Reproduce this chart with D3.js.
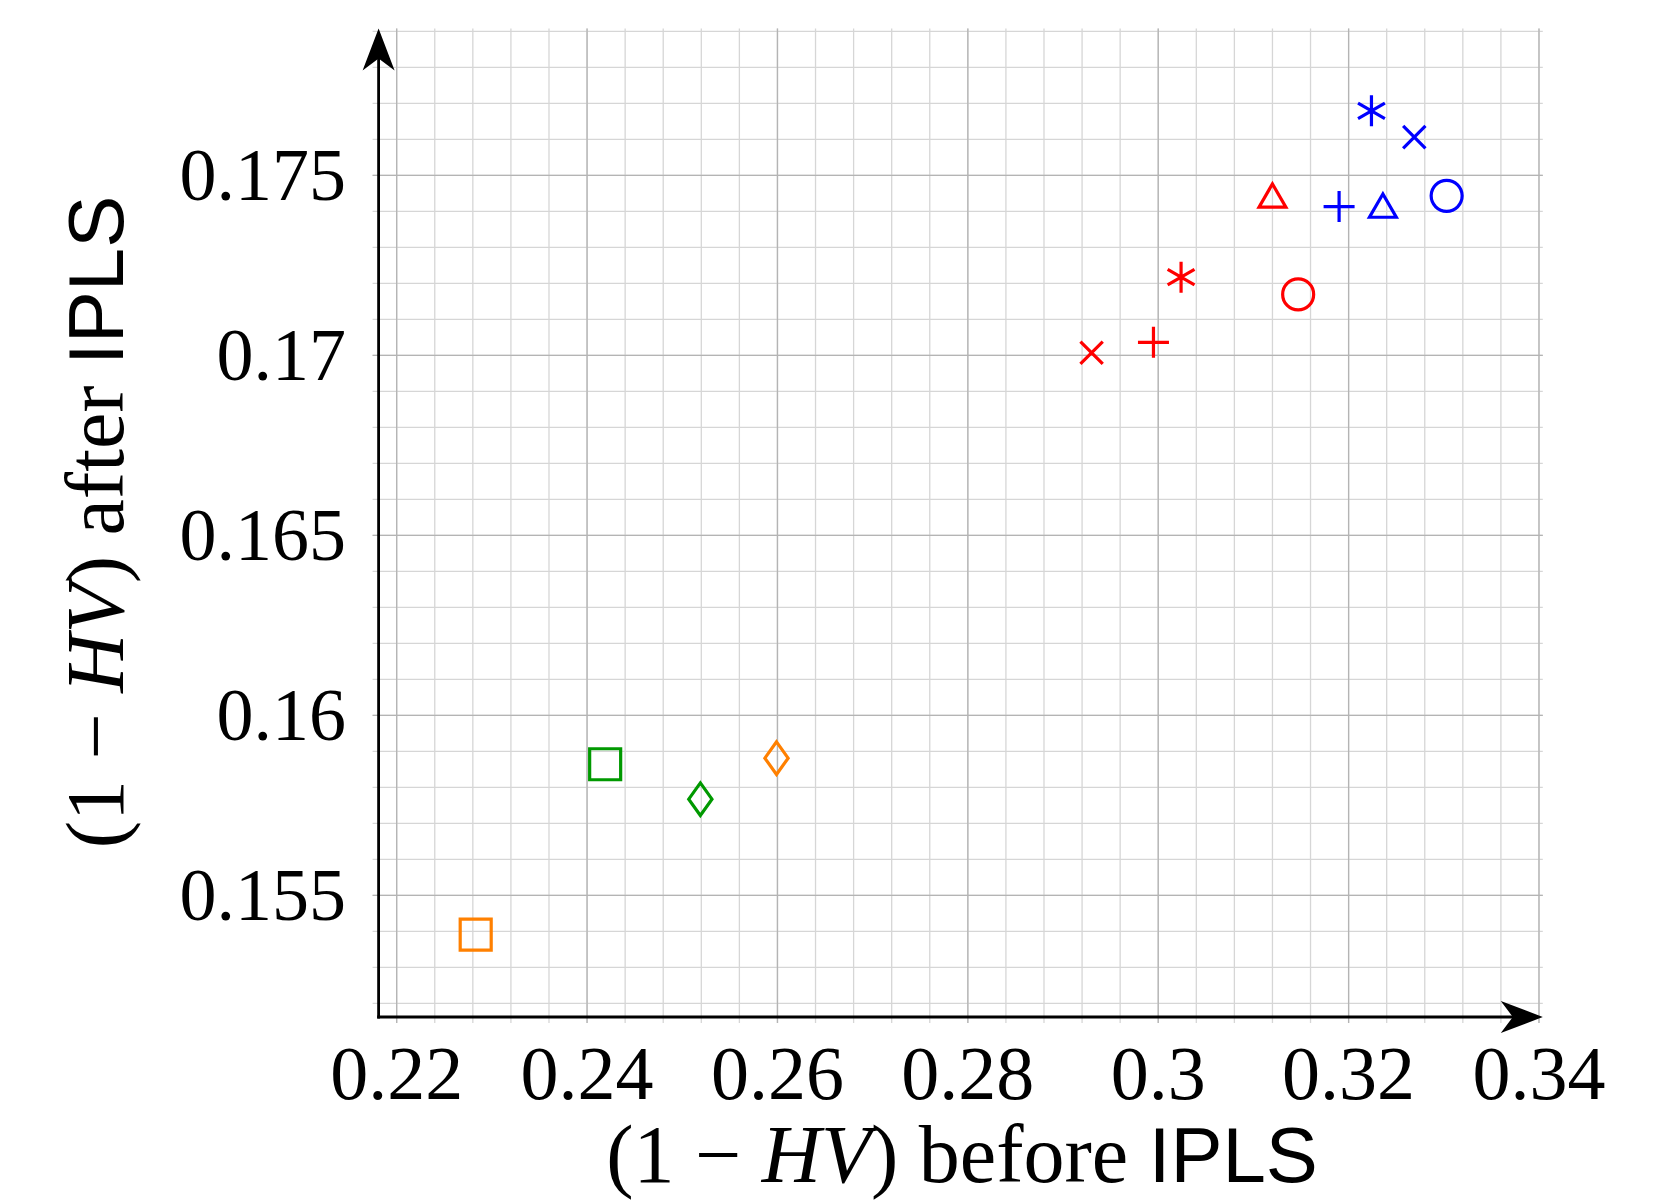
<html>
  <head>
    <meta charset="utf-8">
    <title>HV before / after IPLS</title>
    <style>
      body { margin: 0; background: #fff; }
      svg { display: block; }
      .serif { font-family: "Liberation Serif", "DejaVu Serif", serif; }
      .sans { font-family: "Liberation Sans", "DejaVu Sans", sans-serif; }
    </style>
  </head>
  <body>
    <script src="https://d3js.org/d3.v7.min.js" charset="utf-8"></script>
    <script>
    // data
    var redX = [0.2930, 0.2995, 0.3024, 0.3120, 0.3147];
    var redY = [0.17007, 0.17036, 0.17217, 0.17433, 0.17169];
    var redMarks = ["x", "+", "*", "triangle", "o"];

    var blueX = [0.3190, 0.3236, 0.3303, 0.3224, 0.3269];
    var blueY = [0.17413, 0.17405, 0.17443, 0.17679, 0.17606];
    var blueMarks = ["+", "triangle", "o", "*", "x"];

    var greenX = [0.2419, 0.2519];
    var greenY = [0.15864, 0.15767];
    var greenMarks = ["square", "diamond"];

    var orangeX = [0.2283, 0.2599];
    var orangeY = [0.15391, 0.15881];
    var orangeMarks = ["square", "diamond"];

    var xTicks = [0.22, 0.24, 0.26, 0.28, 0.30, 0.32, 0.34];
    var xTickLabels = ["0.22", "0.24", "0.26", "0.28", "0.3", "0.32", "0.34"];
    var yTicks = [0.155, 0.16, 0.165, 0.17, 0.175];
    var yTickLabels = ["0.155", "0.16", "0.165", "0.17", "0.175"];

    var xDomain = [0.2181, 0.3404];
    var yDomain = [0.15162, 0.17908];

    // layout (window.top is taken, so pX* names)
    var widthCanvas = 1669;
    var heightCanvas = 1202;
    var pLeft = 378.6, pRight = 1542.8, pTop = 28.4, pBottom = 1017;
    var markR = 15.5;
    var colours = {red: "#ff0000", blue: "#0000ff", green: "#009900", orange: "#ff8000"};

    var svg = d3.select("body").append("svg")
        .attr("width", widthCanvas)
        .attr("height", heightCanvas);

    var x = d3.scaleLinear().domain(xDomain).range([pLeft, pRight]);
    var y = d3.scaleLinear().domain(yDomain).range([pBottom, pTop]);

    // grid: minor then major
    var xMinor = d3.range(0.22, 0.3401, 0.004);
    var yMinor = d3.range(0.152, 0.17901, 0.001);

    var grid = svg.append("g");
    grid.selectAll(".vminor").data(xMinor).enter().append("line")
        .attr("x1", d => x(d)).attr("x2", d => x(d))
        .attr("y1", pTop).attr("y2", pBottom + 6)
        .attr("stroke", "#d6d6d6").attr("stroke-width", 1.3);
    grid.selectAll(".hminor").data(yMinor).enter().append("line")
        .attr("x1", pLeft - 6).attr("x2", pRight)
        .attr("y1", d => y(d)).attr("y2", d => y(d))
        .attr("stroke", "#d6d6d6").attr("stroke-width", 1.3);
    grid.selectAll(".vmajor").data(xTicks).enter().append("line")
        .attr("x1", d => x(d)).attr("x2", d => x(d))
        .attr("y1", pTop).attr("y2", pBottom + 6)
        .attr("stroke", "#b4b4b4").attr("stroke-width", 1.3);
    grid.selectAll(".hmajor").data(yTicks).enter().append("line")
        .attr("x1", pLeft - 6).attr("x2", pRight)
        .attr("y1", d => y(d)).attr("y2", d => y(d))
        .attr("stroke", "#b4b4b4").attr("stroke-width", 1.3);

    // axes with stealth arrows
    svg.append("line")
        .attr("x1", pLeft).attr("x2", pLeft)
        .attr("y1", pBottom + 1.4).attr("y2", pTop + 20)
        .attr("stroke", "#000").attr("stroke-width", 2.8);
    svg.append("line")
        .attr("x1", pLeft - 1.4).attr("x2", pRight - 20)
        .attr("y1", pBottom).attr("y2", pBottom)
        .attr("stroke", "#000").attr("stroke-width", 2.8);
    svg.append("path")
        .attr("d", "M" + pLeft + "," + pTop + " L" + (pLeft - 16) + "," + (pTop + 42) +
                   " L" + pLeft + "," + (pTop + 30) + " L" + (pLeft + 16) + "," + (pTop + 42) + " Z")
        .attr("fill", "#000");
    svg.append("path")
        .attr("d", "M" + pRight + "," + pBottom + " L" + (pRight - 42) + "," + (pBottom - 16) +
                   " L" + (pRight - 30) + "," + pBottom + " L" + (pRight - 42) + "," + (pBottom + 16) + " Z")
        .attr("fill", "#000");

    // tick labels
    var tickSize = 76;
    svg.selectAll(".xlab").data(xTicks).enter().append("text")
        .attr("class", "serif")
        .attr("x", d => x(d)).attr("y", 1099)
        .attr("text-anchor", "middle")
        .attr("font-size", tickSize)
        .text((d, i) => xTickLabels[i]);
    svg.selectAll(".ylab").data(yTicks).enter().append("text")
        .attr("class", "serif")
        .attr("x", 346).attr("y", d => y(d) + 0.33 * 74)
        .attr("text-anchor", "end")
        .attr("font-size", 74)
        .text((d, i) => yTickLabels[i]);

    // axis titles
    function title(g, word) {
        var t = g.append("text").attr("text-anchor", "middle").attr("font-size", 82);
        t.append("tspan").attr("class", "serif").text("(1 \u2212 ");
        t.append("tspan").attr("class", "serif").attr("font-style", "italic").text("HV");
        t.append("tspan").attr("class", "serif").text(") " + word + " ");
        t.append("tspan").attr("class", "sans").attr("font-size", 78).text("IPLS");
        return t;
    }
    title(svg.append("g").attr("transform", "translate(962,1182)"), "before");
    title(svg.append("g").attr("transform", "translate(123,522) rotate(-90)"), "after");

    // markers
    function markPath(kind, r) {
        var p = d3.path();
        if (kind == "o") { p.arc(0, 0, r, 0, 2 * Math.PI); }
        else if (kind == "+") { p.moveTo(-r, 0); p.lineTo(r, 0); p.moveTo(0, -r); p.lineTo(0, r); }
        else if (kind == "x") { var a = r * 0.72; p.moveTo(-a, -a); p.lineTo(a, a); p.moveTo(-a, a); p.lineTo(a, -a); }
        else if (kind == "*") {
            for (var k = 0; k < 3; k++) {
                var ang = Math.PI / 2 + k * Math.PI / 3;
                p.moveTo(r * Math.cos(ang), -r * Math.sin(ang));
                p.lineTo(-r * Math.cos(ang), r * Math.sin(ang));
            }
        }
        else if (kind == "triangle") {
            p.moveTo(0, -r); p.lineTo(-0.866 * r, 0.5 * r); p.lineTo(0.866 * r, 0.5 * r); p.closePath();
        }
        else if (kind == "square") { p.rect(-r, -r, 2 * r, 2 * r); }
        else if (kind == "diamond") {
            p.moveTo(0, -r * 1.05); p.lineTo(0.75 * r, 0); p.lineTo(0, r * 1.05); p.lineTo(-0.75 * r, 0); p.closePath();
        }
        return p.toString();
    }

    var series = [
        {name: "red", xs: redX, ys: redY, marks: redMarks},
        {name: "blue", xs: blueX, ys: blueY, marks: blueMarks},
        {name: "green", xs: greenX, ys: greenY, marks: greenMarks},
        {name: "orange", xs: orangeX, ys: orangeY, marks: orangeMarks}
    ];
    series.forEach(function(s) {
        var pts = s.xs.map((v, i) => ({x: v, y: s.ys[i], m: s.marks[i]}));
        svg.append("g").selectAll("path").data(pts).enter().append("path")
            .attr("transform", d => "translate(" + x(d.x) + "," + y(d.y) + ")")
            .attr("d", d => markPath(d.m, markR))
            .attr("fill", "none")
            .attr("stroke", colours[s.name])
            .attr("stroke-width", 3.2);
    });
    </script>
  </body>
</html>
